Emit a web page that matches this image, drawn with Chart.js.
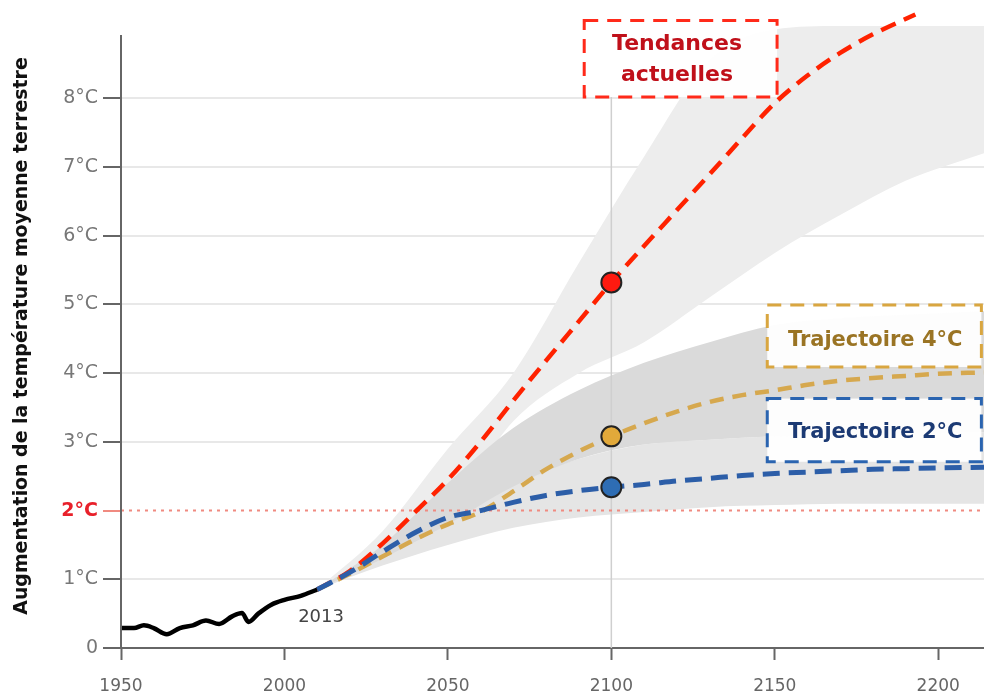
<!DOCTYPE html>
<html>
<head>
<meta charset="utf-8">
<title>Augmentation de la température moyenne terrestre</title>
<script src="https://cdn.jsdelivr.net/npm/chart.js@4.4.1/dist/chart.umd.min.js"></script>
<style>
  html, body { margin: 0; padding: 0; background: #fff; }
  #tempChart { display: block; }
</style>
</head>
<body>
<canvas id="tempChart" width="984" height="695"></canvas>
<script>
// observed warming since 1950
var histYears = [1950, 1954, 1957, 1960, 1964, 1968, 1972, 1976, 1980, 1984, 1987, 1989, 1992, 1996, 2000, 2005, 2010];
var histTemp = [0.29, 0.29, 0.33, 0.29, 0.20, 0.29, 0.33, 0.40, 0.35, 0.46, 0.51, 0.38, 0.50, 0.63, 0.70, 0.76, 0.85];

// "Tendances actuelles"
var trendYears = [2010, 2020, 2030, 2040, 2050, 2060, 2070, 2080, 2090, 2100, 2110, 2120, 2130, 2140, 2150, 2160, 2170, 2180, 2193];
var trendTemp = [0.85, 1.12, 1.52, 1.98, 2.45, 3.0, 3.6, 4.18, 4.75, 5.32, 5.85, 6.37, 6.89, 7.42, 7.93, 8.33, 8.66, 8.93, 9.22];

// 4°C and 2°C trajectories
var pathYears = [2010, 2020, 2030, 2040, 2050, 2060, 2070, 2080, 2090, 2100, 2110, 2120, 2130, 2140, 2150, 2160, 2170, 2180, 2190, 2200, 2214];
var traj4Temp = [0.85, 1.08, 1.33, 1.58, 1.8, 1.98, 2.28, 2.6, 2.86, 3.08, 3.27, 3.44, 3.58, 3.68, 3.75, 3.83, 3.89, 3.93, 3.96, 3.99, 4.01];
var traj2Temp = [0.85, 1.1, 1.4, 1.68, 1.9, 2.0, 2.12, 2.22, 2.29, 2.34, 2.38, 2.43, 2.47, 2.51, 2.54, 2.56, 2.58, 2.6, 2.61, 2.62, 2.63];

// uncertainty ranges
var bandYears = [2010, 2030, 2050, 2070, 2090, 2110, 2130, 2150, 2170, 2190, 2214];
var trendBandHigh = [0.85, 1.7, 2.9, 4.0, 5.6, 7.15, 8.55, 9.0, 9.05, 9.05, 9.05];
var trendBandLow = [0.85, 1.3, 2.0, 3.3, 4.0, 4.45, 5.1, 5.75, 6.3, 6.8, 7.2];
var traj4BandHigh = [0.85, 1.5, 2.4, 3.2, 3.75, 4.15, 4.45, 4.7, 4.8, 4.85, 4.9];
var traj4BandLow = [0.85, 1.3, 1.8, 2.35, 2.75, 2.96, 3.03, 3.08, 3.1, 3.12, 3.14];
var traj2BandHigh = [0.85, 1.45, 2.0, 2.4, 2.75, 2.96, 3.03, 3.08, 3.1, 3.12, 3.14];
var traj2BandLow = [0.85, 1.2, 1.5, 1.75, 1.9, 1.98, 2.05, 2.08, 2.1, 2.1, 2.1];

var markerYear = 2100;
var limitLevel = 2;
var xTicks = [1950, 2000, 2050, 2100, 2150, 2200];
var yTicks = [0, 1, 2, 3, 4, 5, 6, 7, 8];
var xMin = 1950, xMax = 2214, yMax = 9.43;

function pts(xs, ys) {
  return xs.map(function (x, i) { return { x: x, y: ys[i] }; });
}
function at(xs, ys, x) {
  return [{ x: x, y: ys[xs.indexOf(x)] }];
}
function tickVal(c) {
  return c && c.tick ? c.tick.value : null;
}
function noPadding(s) {
  s.paddingLeft = s.paddingRight = s.paddingTop = s.paddingBottom = 0;
}

var boxes = [
  { x1: 2091.7, x2: 2150.7, y1: 9.13, y2: 8.02, cx: 2120.1, lines: [['Tendances', 8.78], ['actuelles', 8.34]], color: '#ff2a1a', text: '#c0101a' },
  { x1: 2147.7, x2: 2213.2, y1: 4.99, y2: 4.09, cx: 2180.7, lines: [['Trajectoire 4°C', 4.48]], color: '#d9a640', text: '#9a7424' },
  { x1: 2147.7, x2: 2213.2, y1: 3.63, y2: 2.71, cx: 2180.7, lines: [['Trajectoire 2°C', 3.13]], color: '#2a64b0', text: '#1c3a74' }
];

var decor = {
  id: 'decor',
  beforeDatasetDraw: function (chart, args) {
    // vertical guide at 2100, drawn over the bands but under the lines
    if (args.index !== 7) return;
    var ctx = chart.ctx, xs = chart.scales.x, ys = chart.scales.y;
    var x = xs.getPixelForValue(markerYear);
    ctx.save();
    ctx.strokeStyle = '#cfcfcf';
    ctx.lineWidth = 1.5;
    ctx.beginPath();
    ctx.moveTo(x, ys.getPixelForValue(boxes[0].y2));
    ctx.lineTo(x, ys.getPixelForValue(0));
    ctx.stroke();
    ctx.restore();
  },
  afterDraw: function (chart) {
    var ctx = chart.ctx, xs = chart.scales.x, ys = chart.scales.y;
    var left = chart.chartArea.left;
    ctx.save();

    // y axis line
    ctx.strokeStyle = '#666';
    ctx.lineWidth = 2;
    ctx.beginPath();
    ctx.moveTo(left, ys.getPixelForValue(8.92));
    ctx.lineTo(left, ys.getPixelForValue(0));
    ctx.stroke();

    // axis title
    var title = 'Augmentation de la température moyenne terrestre';
    ctx.font = 'bold 18px "DejaVu Sans"';
    var size = Math.min(20, 18 * 558 / ctx.measureText(title).width);
    ctx.translate(22, 336);
    ctx.rotate(-Math.PI / 2);
    ctx.font = 'bold ' + size.toFixed(1) + 'px "DejaVu Sans"';
    ctx.fillStyle = '#111';
    ctx.textAlign = 'center';
    ctx.textBaseline = 'middle';
    ctx.fillText(title, 0, 0);
    ctx.setTransform(1, 0, 0, 1, 0, 0);

    // last observed year
    ctx.font = '18px "DejaVu Sans"';
    ctx.fillStyle = '#444';
    ctx.fillText('2013', xs.getPixelForValue(2011.2), ys.getPixelForValue(0.45));

    // annotation boxes
    boxes.forEach(function (b) {
      var x1 = xs.getPixelForValue(b.x1), x2 = xs.getPixelForValue(b.x2);
      var y1 = ys.getPixelForValue(b.y1), y2 = ys.getPixelForValue(b.y2);
      ctx.fillStyle = 'rgba(255,255,255,0.95)';
      ctx.fillRect(x1, y1, x2 - x1, y2 - y1);
      ctx.setLineDash([14, 9]);
      ctx.lineWidth = 3;
      ctx.strokeStyle = b.color;
      ctx.strokeRect(x1, y1, x2 - x1, y2 - y1);
      ctx.setLineDash([]);
      ctx.font = 'bold ' + (b.lines.length > 1 ? 22 : 21) + 'px "DejaVu Sans"';
      ctx.fillStyle = b.text;
      b.lines.forEach(function (l) {
        ctx.fillText(l[0], xs.getPixelForValue(b.cx), ys.getPixelForValue(l[1]));
      });
    });
    ctx.restore();
  }
};

function line(data, color, width, dash, order) {
  return {
    data: data, borderColor: color, borderWidth: width, borderDash: dash,
    pointRadius: 0, fill: false, cubicInterpolationMode: 'monotone', order: order
  };
}
function band(data, color, fill, order) {
  return {
    data: data, borderWidth: 0, borderColor: 'rgba(0,0,0,0)', backgroundColor: color,
    pointRadius: 0, fill: fill, cubicInterpolationMode: 'monotone', order: order
  };
}
function marker(data, color) {
  return {
    type: 'scatter', data: data, backgroundColor: color, borderColor: '#222',
    borderWidth: 2, pointRadius: 10, order: 0
  };
}

var ctx = document.getElementById('tempChart').getContext('2d');
var tempChart = new Chart(ctx, {
  type: 'line',
  data: {
    datasets: [
      line(pts(histYears, histTemp), '#000', 4.5, [], 1),
      line(pts(trendYears, trendTemp), '#ff2200', 4.5, [16, 9], 2),
      line(pts(pathYears, traj4Temp), '#d6a84e', 4.5, [14, 9], 3),
      line(pts(pathYears, traj2Temp), '#2c5ea8', 5, [17, 9], 1),
      marker(at(trendYears, trendTemp, markerYear), '#ff1a10'),
      marker(at(pathYears, traj4Temp, markerYear), '#e2a93a'),
      marker(at(pathYears, traj2Temp, markerYear), '#2e6db4'),
      line([{ x: xMin, y: limitLevel }, { x: xMax, y: limitLevel }], '#f08a80', 2, [3, 5], 5),
      band(pts(bandYears, trendBandLow), '#ededed', false, 12),
      band(pts(bandYears, trendBandHigh), '#ededed', '-1', 12),
      band(pts(bandYears, traj2BandLow), '#e5e5e5', false, 11),
      band(pts(bandYears, traj2BandHigh), '#e5e5e5', '-1', 11),
      band(pts(bandYears, traj4BandLow), '#dadada', false, 10),
      band(pts(bandYears, traj4BandHigh), '#dadada', '-1', 10)
    ]
  },
  options: {
    responsive: false,
    animation: false,
    events: [],
    layout: { padding: 0, autoPadding: false },
    plugins: { legend: { display: false }, tooltip: { enabled: false } },
    elements: { line: { borderCapStyle: 'butt' } },
    scales: {
      x: {
        type: 'linear', min: xMin, max: xMax,
        afterBuildTicks: function (s) { s.ticks = xTicks.map(function (v) { return { value: v }; }); },
        afterFit: function (s) { s.height = 47; noPadding(s); },
        grid: { color: 'rgba(0,0,0,0)', tickColor: '#666', tickLength: 12, tickWidth: 2 },
        border: { display: true, color: '#666', width: 2 },
        ticks: {
          color: '#666', padding: 16, maxRotation: 0,
          font: { family: 'DejaVu Sans', size: 17 },
          callback: function (v) { return String(v); }
        }
      },
      y: {
        type: 'linear', min: 0, max: yMax,
        afterBuildTicks: function (s) { s.ticks = yTicks.map(function (v) { return { value: v }; }); },
        afterFit: function (s) { s.width = 121; noPadding(s); },
        grid: {
          lineWidth: 2, tickLength: 18, tickWidth: 2,
          color: function (c) { var v = tickVal(c); return (v === 0 || v === limitLevel) ? 'rgba(0,0,0,0)' : '#e8e8e8'; },
          tickColor: function (c) { return tickVal(c) === limitLevel ? '#f08a80' : '#666'; }
        },
        border: { display: false },
        ticks: {
          padding: 5,
          color: function (c) { return tickVal(c) === limitLevel ? '#e8202a' : '#777'; },
          font: function (c) {
            return { family: 'DejaVu Sans', size: 19, weight: tickVal(c) === limitLevel ? 'bold' : 'normal' };
          },
          callback: function (v) { return v === 0 ? '0' : v + '°C'; }
        }
      }
    }
  },
  plugins: [decor]
});
</script>
</body>
</html>
